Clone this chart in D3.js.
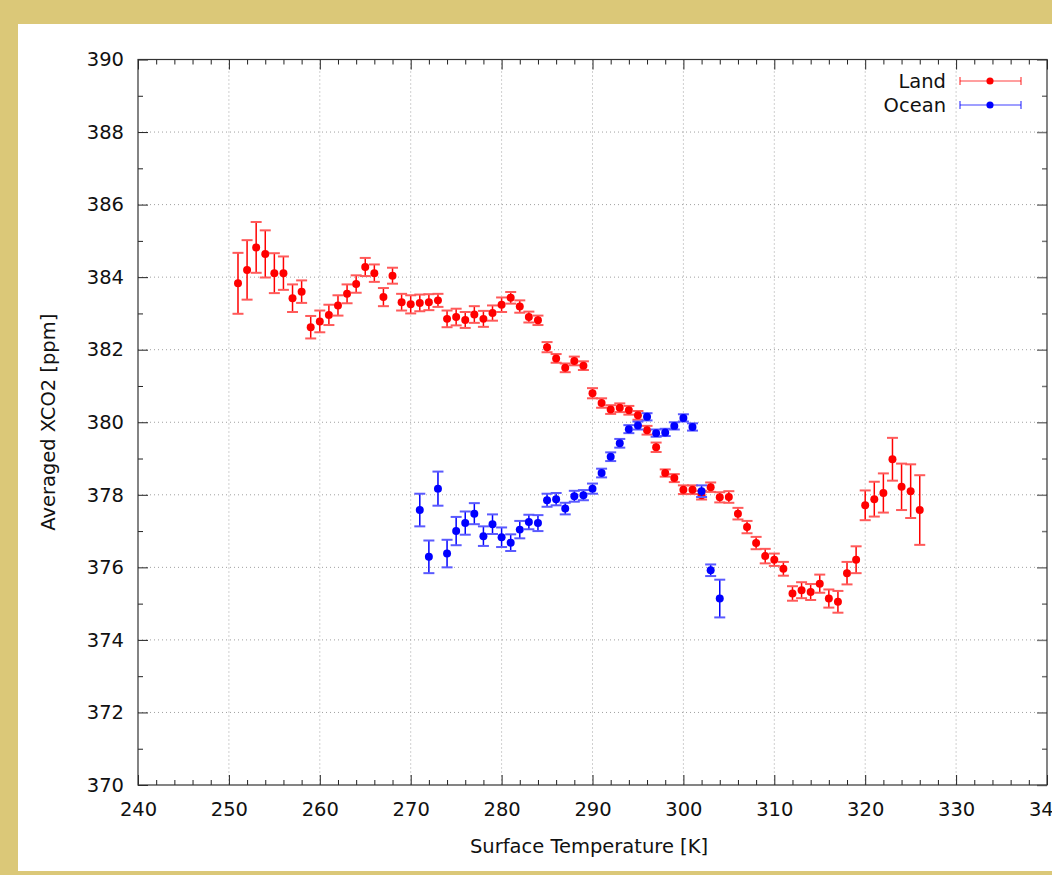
<!DOCTYPE html>
<html>
<head>
<meta charset="utf-8">
<script src="https://cdn.jsdelivr.net/npm/d3@7"></script>
<style>
  html, body { margin: 0; padding: 0; background: #dbc878; }
  svg { display: block; }
  text { font-family: "DejaVu Sans", sans-serif; fill: #111; }
</style>
</head>
<body>
<svg id="chart" width="1052" height="875"></svg>
<script>
// Land: surface temperature bins [K], mean XCO2 [ppm] and its uncertainty
const landTemp = [251,252,253,254,255,256,257,258,259,260,261,262,263,264,265,266,267,268,269,270,
  271,272,273,274,275,276,277,278,279,280,281,282,283,284,285,286,287,288,289,290,
  291,292,293,294,295,296,297,298,299,300,301,302,303,304,305,306,307,308,309,310,
  311,312,313,314,315,316,317,318,319,320,321,322,323,324,325,326];
const landXco2 = [383.83,384.20,384.82,384.64,384.11,384.11,383.42,383.60,382.62,382.78,382.96,383.22,383.54,383.81,384.28,384.11,383.45,384.04,383.31,383.25,
  383.29,383.31,383.36,382.85,382.90,382.82,382.97,382.85,383.01,383.24,383.43,383.19,382.90,382.81,382.07,381.76,381.50,381.69,381.56,380.80,
  380.53,380.35,380.40,380.33,380.19,379.78,379.31,378.60,378.46,378.14,378.14,377.99,378.21,377.93,377.94,377.48,377.11,376.67,376.31,376.21,
  375.96,375.28,375.37,375.32,375.55,375.14,375.05,375.84,376.21,377.71,377.88,378.05,378.98,378.22,378.10,377.58];
const landErr = [0.84,0.82,0.70,0.65,0.55,0.46,0.38,0.31,0.31,0.30,0.28,0.28,0.26,0.24,0.25,0.24,0.25,0.22,0.23,0.25,
  0.23,0.22,0.18,0.23,0.23,0.22,0.23,0.22,0.21,0.20,0.16,0.17,0.15,0.13,0.14,0.12,0.12,0.12,0.12,0.14,
  0.13,0.12,0.12,0.12,0.12,0.12,0.13,0.10,0.11,0.12,0.12,0.12,0.13,0.14,0.16,0.16,0.17,0.17,0.20,0.17,
  0.19,0.20,0.22,0.22,0.25,0.25,0.30,0.31,0.37,0.41,0.48,0.54,0.59,0.64,0.74,0.96];

// Ocean
const oceanTemp = [271,272,273,274,275,276,277,278,279,280,281,282,283,284,285,286,287,288,289,290,
  291,292,293,294,295,296,297,298,299,300,301,302,303,304];
const oceanXco2 = [377.58,376.29,378.17,376.38,377.00,377.22,377.48,376.86,377.19,376.83,376.68,377.04,377.25,377.22,377.85,377.88,377.62,377.96,377.99,378.17,
  378.60,379.05,379.42,379.81,379.91,380.15,379.70,379.72,379.90,380.12,379.87,378.10,375.92,375.14];
const oceanErr = [0.45,0.45,0.47,0.38,0.39,0.32,0.29,0.27,0.27,0.27,0.23,0.24,0.20,0.22,0.18,0.17,0.16,0.15,0.14,0.14,
  0.12,0.12,0.12,0.11,0.11,0.10,0.10,0.10,0.10,0.10,0.10,0.16,0.16,0.52];

const xTicks = [240,250,260,270,280,290,300,310,320,330,340];
const yTicks = [370,372,374,376,378,380,382,384,386,388,390];

const series = [
  { name: "Land",  color: "#ff0000", capColor: "#ff5a5a", t: landTemp,  v: landXco2,  e: landErr },
  { name: "Ocean", color: "#0000ff", capColor: "#5a5aff", t: oceanTemp, v: oceanXco2, e: oceanErr }
];

const fontSize = 19.5;
const svg = d3.select("#chart");

// white panel inside the frame
svg.append("rect").attr("x", 18).attr("y", 24).attr("width", 1052 - 18).attr("height", 871 - 24).attr("fill", "#ffffff");

const plotLeft = 138, plotRight = 1047, plotTop = 59.5, plotBottom = 785;
const x = d3.scaleLinear().domain([240, 340]).range([plotLeft, plotRight]);
const y = d3.scaleLinear().domain([370, 390]).range([plotBottom, plotTop]);

// dotted grid
const grid = svg.append("g").attr("stroke", "#a0a0a0").attr("stroke-width", 1).attr("stroke-dasharray", "1,3");
xTicks.slice(1, -1).forEach(t => grid.append("line").attr("x1", x(t)).attr("x2", x(t)).attr("y1", plotTop).attr("y2", plotBottom));
yTicks.slice(1, -1).forEach(t => grid.append("line").attr("x1", plotLeft).attr("x2", plotRight).attr("y1", y(t)).attr("y2", y(t)));

// axes (ticks inward, mirrored on the top and right)
const xMinor = d3.range(240, 341, 2).filter(v => v % 10);
const yMinor = d3.range(371, 390, 2);
const axisG = svg.append("g");

const gb = axisG.append("g").attr("transform", `translate(0,${plotBottom})`)
  .call(d3.axisBottom(x).tickValues(xTicks).tickSizeInner(-10).tickSizeOuter(0).tickPadding(17).tickFormat(d3.format("d")));
const gbm = axisG.append("g").attr("transform", `translate(0,${plotBottom})`)
  .call(d3.axisBottom(x).tickValues(xMinor).tickSizeInner(-5).tickSizeOuter(0).tickFormat(""));
const gt = axisG.append("g").attr("transform", `translate(0,${plotTop})`)
  .call(d3.axisTop(x).tickValues(xTicks).tickSizeInner(-10).tickSizeOuter(0).tickFormat(""));
const gtm = axisG.append("g").attr("transform", `translate(0,${plotTop})`)
  .call(d3.axisTop(x).tickValues(xMinor).tickSizeInner(-5).tickSizeOuter(0).tickFormat(""));

const gl = axisG.append("g").attr("transform", `translate(${plotLeft},0)`)
  .call(d3.axisLeft(y).tickValues(yTicks).tickSizeInner(-10).tickSizeOuter(0).tickPadding(14).tickFormat(d3.format("d")));
const glm = axisG.append("g").attr("transform", `translate(${plotLeft},0)`)
  .call(d3.axisLeft(y).tickValues(yMinor).tickSizeInner(-5).tickSizeOuter(0).tickFormat(""));
const gr = axisG.append("g").attr("transform", `translate(${plotRight},0)`)
  .call(d3.axisRight(y).tickValues(yTicks).tickSizeInner(-10).tickSizeOuter(0).tickFormat(""));
const grm = axisG.append("g").attr("transform", `translate(${plotRight},0)`)
  .call(d3.axisRight(y).tickValues(yMinor).tickSizeInner(-5).tickSizeOuter(0).tickFormat(""));

[gb, gbm, gt, gtm, gl, glm, gr, grm].forEach(g => {
  g.select(".domain").remove();
  g.selectAll(".tick line").attr("stroke", "#222").attr("stroke-width", 1);
});
[gr, grm].forEach(g => g.selectAll(".tick line").attr("stroke", "#777").attr("stroke-width", 1.5));
[gb, gl].forEach(g => g.selectAll(".tick text").attr("font-size", fontSize).attr("fill", "#111")
  .attr("font-family", "DejaVu Sans, sans-serif"));

// plot border
svg.append("rect").attr("x", plotLeft).attr("y", plotTop).attr("width", plotRight - plotLeft).attr("height", plotBottom - plotTop)
  .attr("fill", "none").attr("stroke", "#333").attr("stroke-width", 1.2);

// axis titles
svg.append("text").attr("x", 589).attr("y", 853).attr("text-anchor", "middle")
  .attr("font-size", fontSize).text("Surface Temperature [K]");
svg.append("text").attr("transform", `translate(55,${(plotTop + plotBottom) / 2}) rotate(-90)`).attr("text-anchor", "middle")
  .attr("font-size", fontSize).text("Averaged XCO2 [ppm]");

// error bars with points
const capHalf = 5.5;
series.forEach(s => {
  const g = svg.append("g");
  const rows = s.t.map((t, i) => ({ t, v: s.v[i], e: s.e[i] }));
  const bars = g.selectAll("g.bar").data(rows).enter().append("g").attr("class", "bar");
  bars.append("line")
    .attr("x1", d => x(d.t)).attr("x2", d => x(d.t))
    .attr("y1", d => y(d.v - d.e)).attr("y2", d => y(d.v + d.e))
    .attr("stroke", s.color).attr("stroke-width", 1.5);
  [-1, 1].forEach(sign => {
    bars.append("line")
      .attr("x1", d => x(d.t) - capHalf).attr("x2", d => x(d.t) + capHalf)
      .attr("y1", d => y(d.v + sign * d.e)).attr("y2", d => y(d.v + sign * d.e))
      .attr("stroke", s.capColor).attr("stroke-width", 2);
  });
  bars.append("path")
    .attr("transform", d => `translate(${x(d.t)},${y(d.v)})`)
    .attr("d", d3.symbol(d3.symbolCircle, 50)())
    .attr("fill", s.color);
});

// legend
series.forEach((s, i) => {
  const ly = 81 + i * 24;
  const lg = svg.append("g");
  lg.append("text").attr("x", 946).attr("y", ly).attr("dy", "0.36em").attr("text-anchor", "end")
    .attr("font-size", fontSize).text(s.name);
  lg.append("line").attr("x1", 960).attr("x2", 1021).attr("y1", ly).attr("y2", ly)
    .attr("stroke", s.color).attr("stroke-width", 1.2).attr("opacity", 0.75);
  [960, 1021].forEach(cx => lg.append("line").attr("x1", cx).attr("x2", cx).attr("y1", ly - 4).attr("y2", ly + 4)
    .attr("stroke", s.color).attr("stroke-width", 1.2).attr("opacity", 0.75));
  lg.append("path").attr("transform", `translate(990,${ly})`)
    .attr("d", d3.symbol(d3.symbolCircle, 40)()).attr("fill", s.color);
});
</script>
</body>
</html>
